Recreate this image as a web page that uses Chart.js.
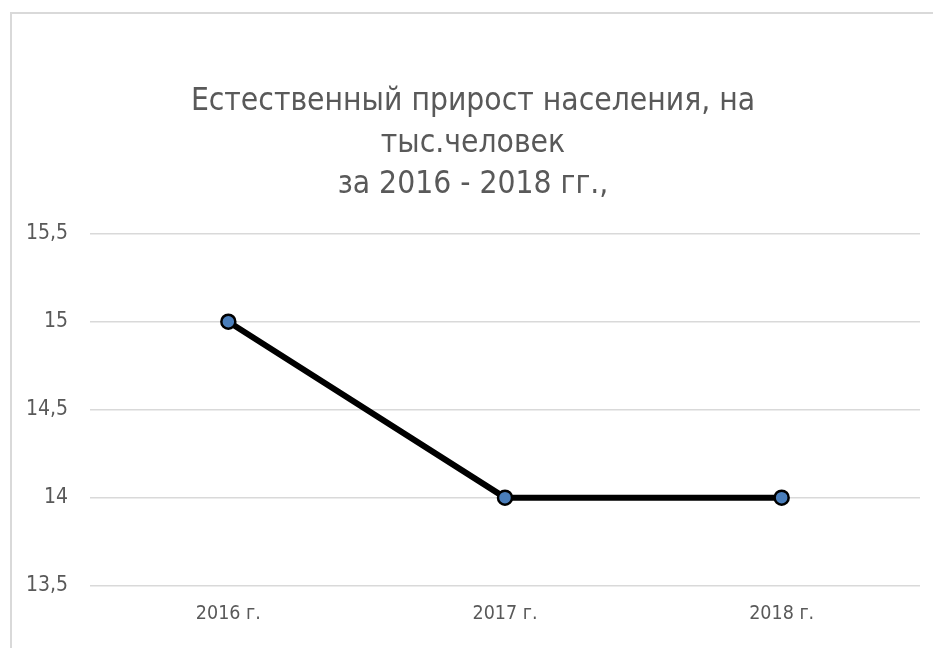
<!DOCTYPE html>
<html>
<head>
<meta charset="utf-8">
<script src="https://cdn.jsdelivr.net/npm/chart.js@4"></script>
<style>
    html, body { margin: 0; padding: 0; background: #fff; }
    .frame {
        position: absolute;
        left: 10px;
        top: 12px;
        width: 921px;
        height: 634px;
        border-top: 2px solid #d9d9d9;
        border-left: 2px solid #d9d9d9;
    }
</style>
</head>
<body>
<div class="frame">
    <canvas id="growthChart" width="921" height="634"></canvas>
</div>
<script>
// Chart data
const years = ['2016 г.', '2017 г.', '2018 г.'];
const growthValues = [15, 14, 14];
const yTicks = [13.5, 14, 14.5, 15, 15.5];
const titleLines = ['Естественный прирост населения, на', 'тыс.человек', 'за 2016 - 2018 гг.,'];

const fontStack = '"DejaVu Sans Condensed", "Liberation Sans Narrow", "Open Sans", sans-serif';
const textColor = '#595959';

const ctx = document.getElementById('growthChart').getContext('2d');

new Chart(ctx, {
    type: 'line',
    data: {
        labels: years,
        datasets: [{
            data: growthValues,
            borderColor: '#000000',
            borderWidth: 6,
            pointBackgroundColor: '#4a7ebb',
            pointBorderColor: '#000000',
            pointBorderWidth: 2.5,
            pointRadius: 7,
            tension: 0,
            fill: false
        }]
    },
    options: {
        responsive: false,
        animation: false,
        layout: {
            padding: { left: 14, right: 13, top: 0, bottom: 5 }
        },
        plugins: {
            legend: { display: false },
            tooltip: { enabled: false },
            title: {
                display: true,
                text: titleLines,
                color: textColor,
                font: { family: fontStack, size: 31.5, weight: 'normal', lineHeight: 1.32 },
                padding: { top: 67, bottom: 28 }
            }
        },
        scales: {
            x: {
                offset: true,
                grid: { display: false, drawTicks: false },
                border: { display: false },
                ticks: {
                    color: textColor,
                    font: { family: fontStack, size: 19.5 },
                    padding: 17
                }
            },
            y: {
                min: yTicks[0],
                max: yTicks[yTicks.length - 1],
                afterBuildTicks: function (axis) {
                    axis.ticks = yTicks.map(v => ({ value: v }));
                },
                afterFit: function (axis) {
                    axis.width = 64;
                },
                grid: { color: '#d9d9d9', lineWidth: 1.5, drawTicks: false },
                border: { display: false },
                ticks: {
                    color: textColor,
                    font: { family: fontStack, size: 21 },
                    padding: 22,
                    callback: function (value) {
                        return String(value).replace('.', ',');
                    }
                }
            }
        }
    }
});
</script>
</body>
</html>
